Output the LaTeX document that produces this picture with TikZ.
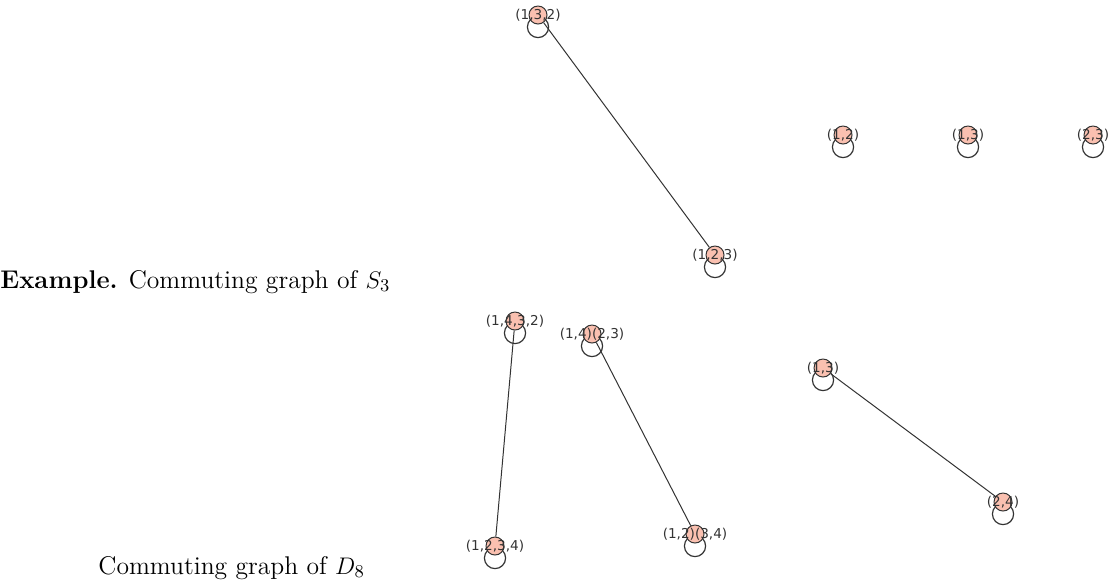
\documentclass[tikz,border=0pt]{standalone}
\usepackage{fontspec}
\newfontfamily\vlabelfont{DejaVu Sans}
\usepackage{xcolor}
\usepackage{tikz}
\usetikzlibrary{backgrounds,calc}
\definecolor{vxfill}{HTML}{FAC0B0}
\definecolor{vxink}{HTML}{333333}

\begin{document}
\begin{tikzpicture}[x=0.5pt, y=-0.5pt,
  vx/.style={circle, draw=vxink, line width=0.5pt, fill=vxfill,
    minimum size=9pt, inner sep=0pt},
  vlab/.style={font=\vlabelfont\fontsize{6.8}{7}\selectfont, text=vxink, inner sep=0pt},
  edge/.style={draw=vxink, line width=0.5pt},
  selfloop/.style={draw=vxink, line width=0.6pt},
  caption/.style={anchor=base west, inner sep=0pt, font=\fontsize{12.8}{15}\selectfont},
  ]
  \useasboundingbox (0,0) rectangle (1111,586);

  % commuting graph of S_3
  \node[vx, label={[vlab]center:(1,3,2)}] (s132) at (538,15) {};
  \node[vx, label={[vlab]center:(1,2,3)}] (s123) at (715,255) {};
  \node[vx, label={[vlab]center:(1,2)}] (s12) at (843,135) {};
  \node[vx, label={[vlab]center:(1,3)}] (s13) at (968,135) {};
  \node[vx, label={[vlab]center:(2,3)}] (s23) at (1093,135) {};
  \node[caption] (capS) at (0,288) {\textbf{Example.} Commuting graph of $S_3$};

  % commuting graph of D_8
  \node[vx, label={[vlab]center:(1,4,3,2)}] (d1432) at (515,321) {};
  \node[vx, label={[vlab]center:(1,4)(2,3)}] (d1423) at (592,334) {};
  \node[vx, label={[vlab]center:(1,3)}] (d13) at (823,368) {};
  \node[vx, label={[vlab]center:(2,4)}] (d24) at (1003,502) {};
  \node[vx, label={[vlab]center:(1,2,3,4)}] (d1234) at (495,546) {};
  \node[vx, label={[vlab]center:(1,2)(3,4)}] (d1234b) at (695,534) {};
  \node[caption] (capD) at (98,574) {Commuting graph of $D_8$};

  \begin{scope}[on background layer]
    \foreach \v in {s132,s123,s12,s13,s23,d1432,d1423,d13,d24,d1234,d1234b}
      \draw[selfloop] ($(\v.center)+(0,-6pt)$) circle[radius=5.3pt];
    \draw[edge] (s132) -- (s123);
    \draw[edge] (d1432) -- (d1234);
    \draw[edge] (d1423) -- (d1234b);
    \draw[edge] (d13) -- (d24);
  \end{scope}
\end{tikzpicture}
\end{document}
